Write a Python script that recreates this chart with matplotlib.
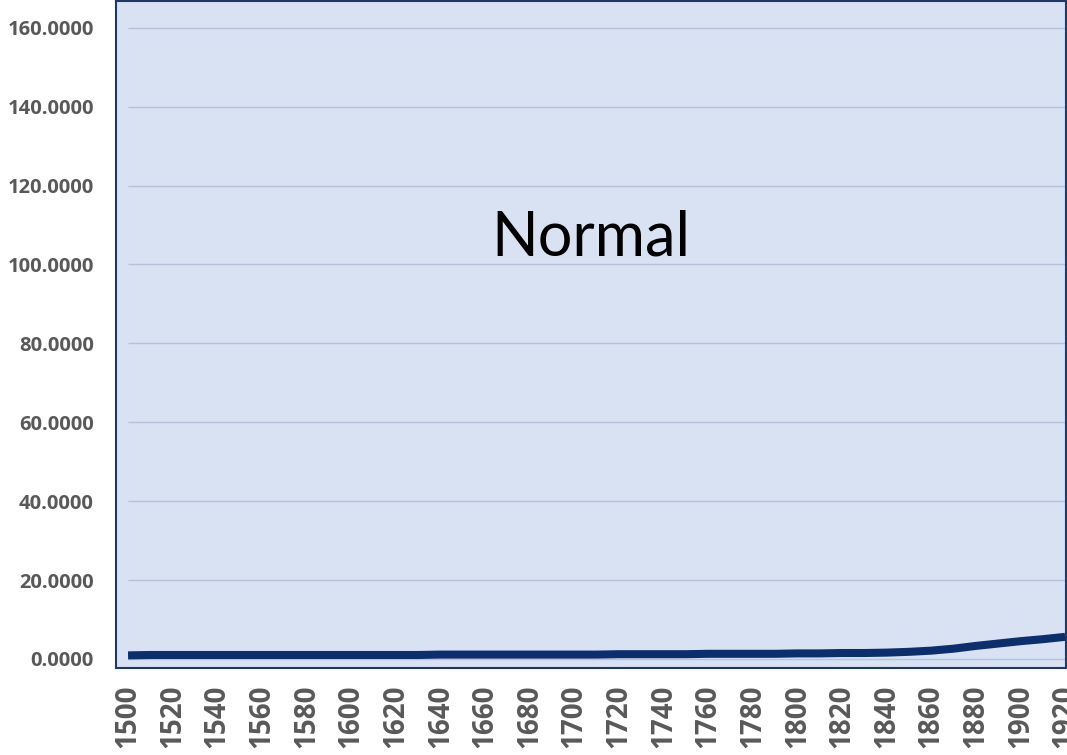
import matplotlib
matplotlib.use("Agg")
import matplotlib.pyplot as plt

# data
years = [1500, 1510, 1520, 1530, 1540, 1550, 1560, 1570, 1580, 1590,
         1600, 1610, 1620, 1630, 1640, 1650, 1660, 1670, 1680, 1690,
         1700, 1710, 1720, 1730, 1740, 1750, 1760, 1770, 1780, 1790,
         1800, 1810, 1820, 1830, 1840, 1850, 1860, 1870, 1880, 1890,
         1900, 1910, 1920]
values = [0.9, 1.0, 1.0, 1.0, 1.0, 1.0, 1.0, 1.0, 1.0, 1.0,
          1.0, 1.0, 1.0, 1.0, 1.1, 1.1, 1.1, 1.1, 1.1, 1.1,
          1.1, 1.1, 1.2, 1.2, 1.2, 1.2, 1.3, 1.3, 1.3, 1.3,
          1.4, 1.4, 1.5, 1.5, 1.6, 1.8, 2.1, 2.6, 3.3, 3.9,
          4.5, 5.0, 5.6]
yticks = [0, 20, 40, 60, 80, 100, 120, 140, 160]
xticks = list(range(1500, 1921, 20))

bg = "#D9E2F3"
grid_col = "#B4C2DA"
line_col = "#0D2E6C"
label_col = "#595959"

fig = plt.figure(figsize=(10.67, 7.55), dpi=100)
ax = fig.add_axes([116 / 1067, (755 - 668) / 755, 950 / 1067, 667 / 755])
ax.set_facecolor(bg)

ax.hlines(yticks, 1500, 1920, color=grid_col, linewidth=1.0, zorder=1)
ax.plot(years, values, color=line_col, linewidth=5.8, solid_capstyle="butt", zorder=3)

ax.set_xlim(1494.6, 1920.4)
ax.set_ylim(-2.3, 166.8)

ax.set_yticks(yticks)
ax.set_yticklabels(["%.4f" % v for v in yticks], fontfamily="Open Sans",
                   fontweight="bold", fontsize=14.5, color=label_col)
ax.set_xticks(xticks)
ax.set_xticklabels([str(x) for x in xticks], rotation=90, fontfamily="Open Sans",
                   fontweight="bold", fontsize=20, color=label_col, va="top")
ax.tick_params(axis="y", length=0, pad=16)
ax.tick_params(axis="x", length=0, pad=12)

for s in ax.spines.values():
    s.set_color("#1F3864")
    s.set_linewidth(1.5)

ax.text(0.5, 0.645, "Normal", transform=ax.transAxes, ha="center", va="center",
        fontsize=44, fontfamily="Lato", color="black")

fig.savefig("out.png", dpi=100)
